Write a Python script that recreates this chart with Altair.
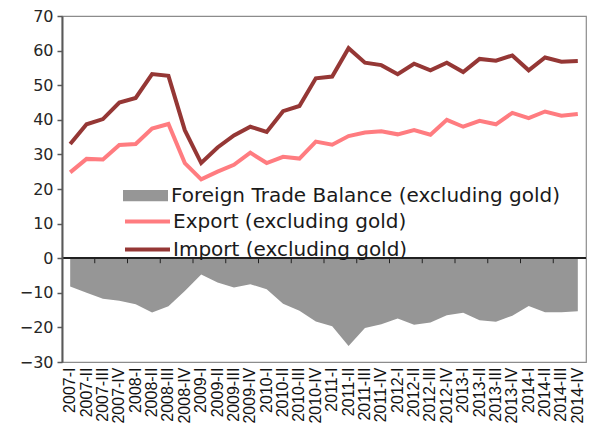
import altair as alt
import pandas as pd

quarters = [f"{y}-{q}" for y in range(2007, 2015) for q in ["I", "II", "III", "IV"]]

export_vals = [24.8, 28.7, 28.5, 32.7, 33.0, 37.5, 38.8, 27.5,
               22.8, 25.0, 27.0, 30.5, 27.5, 29.3, 28.8, 33.7,
               32.8, 35.3, 36.3, 36.7, 35.8, 37.0, 35.7, 40.0,
               38.0, 39.7, 38.7, 42.0, 40.5, 42.4, 41.2, 41.7]
import_vals = [33.0, 38.7, 40.2, 45.0, 46.3, 53.2, 52.7, 37.0,
               27.5, 32.0, 35.5, 38.0, 36.5, 42.5, 44.0, 52.0,
               52.5, 60.7, 56.5, 55.8, 53.2, 56.2, 54.3, 56.5,
               53.8, 57.6, 57.1, 58.6, 54.3, 58.0, 56.8, 57.0]
balance_vals = [-8.2, -10.0, -11.7, -12.3, -13.3, -15.7, -13.9, -9.5,
                -4.7, -7.0, -8.5, -7.5, -9.0, -13.2, -15.2, -18.3,
                -19.7, -25.4, -20.2, -19.1, -17.4, -19.2, -18.6, -16.5,
                -15.8, -17.9, -18.4, -16.6, -13.8, -15.6, -15.6, -15.3]
tick_quarters = quarters[2::2]

BAL = "Foreign Trade Balance (excluding gold)"
EXP = "Export (excluding gold)"
IMP = "Import (excluding gold)"

rows = []
for name, vals in [(BAL, balance_vals), (EXP, export_vals), (IMP, import_vals)]:
    for q, v in zip(quarters, vals):
        rows.append({"quarter": q, "series": name, "value": v})
df = pd.DataFrame(rows)
ticks_df = pd.DataFrame({"quarter": tick_quarters})

FONT = "DejaVu Sans"

xscale = alt.Scale(type="band", domain=quarters, paddingInner=0, paddingOuter=0)
yscale = alt.Scale(domain=[-30, 70], nice=False, zero=False)
yaxis = alt.Axis(values=list(range(-30, 71, 10)), grid=False, domainColor="#595959",
                 domainWidth=2, tickColor="#595959", tickSize=5, tickWidth=1.5,
                 labelFontSize=16, labelColor="#262626", labelFont=FONT,
                 labelOverlap=False, labelPadding=4, title=None, zindex=1)
xaxis = alt.Axis(orient="bottom", labelAngle=-90, ticks=False, domain=False,
                 grid=False, labelFontSize=16, labelFont="Liberation Sans",
                 labelOverlap=False, labelColor="#111111", labelPadding=5, title=None)

leg_common = dict(title=None, orient="none", legendX=61,
                  labelFontSize=20, labelFont=FONT, labelColor="#1a1a1a",
                  labelLimit=600, symbolSize=2025, padding=0)

base = alt.Chart(df)

area = base.transform_filter(alt.datum.series == BAL).mark_area(opacity=1).encode(
    x=alt.X("quarter:O", scale=xscale, bandPosition=0.5, sort=quarters, axis=xaxis),
    y=alt.Y("value:Q", scale=yscale, axis=yaxis),
    fill=alt.Fill("series:N", scale=alt.Scale(domain=[BAL], range=["#969696"]),
                  legend=alt.Legend(legendY=157, symbolType="M-1,-0.25H1V0.25H-1Z",
                                    symbolStrokeWidth=0, symbolOpacity=1,
                                    labelOffset=3, **leg_common)),
)

export_line = base.transform_filter(alt.datum.series == EXP).mark_line(strokeWidth=4).encode(
    x=alt.X("quarter:O", scale=xscale, bandPosition=0.5, sort=quarters, axis=xaxis),
    y=alt.Y("value:Q", scale=yscale, axis=yaxis),
    stroke=alt.Stroke("series:N", scale=alt.Scale(domain=[EXP], range=["#FF7C80"]),
                      legend=alt.Legend(legendY=181, symbolType="stroke",
                                        symbolStrokeWidth=4, labelOffset=1, **leg_common)),
)

import_line = base.transform_filter(alt.datum.series == IMP).mark_line(strokeWidth=4).encode(
    x=alt.X("quarter:O", scale=xscale, bandPosition=0.5, sort=quarters, axis=xaxis),
    y=alt.Y("value:Q", scale=yscale, axis=yaxis),
    color=alt.Color("series:N", scale=alt.Scale(domain=[IMP], range=["#953735"]),
                    legend=alt.Legend(legendY=209, symbolType="stroke",
                                      symbolStrokeWidth=4, labelOffset=1, **leg_common)),
)

zero = alt.Chart(ticks_df).mark_rule(color="#222222", strokeWidth=1).encode(
    y=alt.YDatum(0, scale=yscale, axis=yaxis),
)

ticks = alt.Chart(ticks_df).mark_rule(color="#222222", strokeWidth=1).encode(
    x=alt.X("quarter:O", scale=xscale, bandPosition=0, sort=quarters, axis=xaxis),
    y=alt.YDatum(0, scale=yscale, axis=yaxis),
    y2=alt.datum(-1.45),
)

chart = alt.layer(area, export_line, import_line, zero, ticks).properties(
    width=524, height=346,
    autosize=alt.AutoSizeParams(type="none"),
    padding={"left": 54, "top": 8, "right": 1, "bottom": 62},
).configure_view(stroke="#8c8c8c", strokeWidth=1.2)

chart.save("out.html", embed_options={"renderer": "svg", "actions": False})
